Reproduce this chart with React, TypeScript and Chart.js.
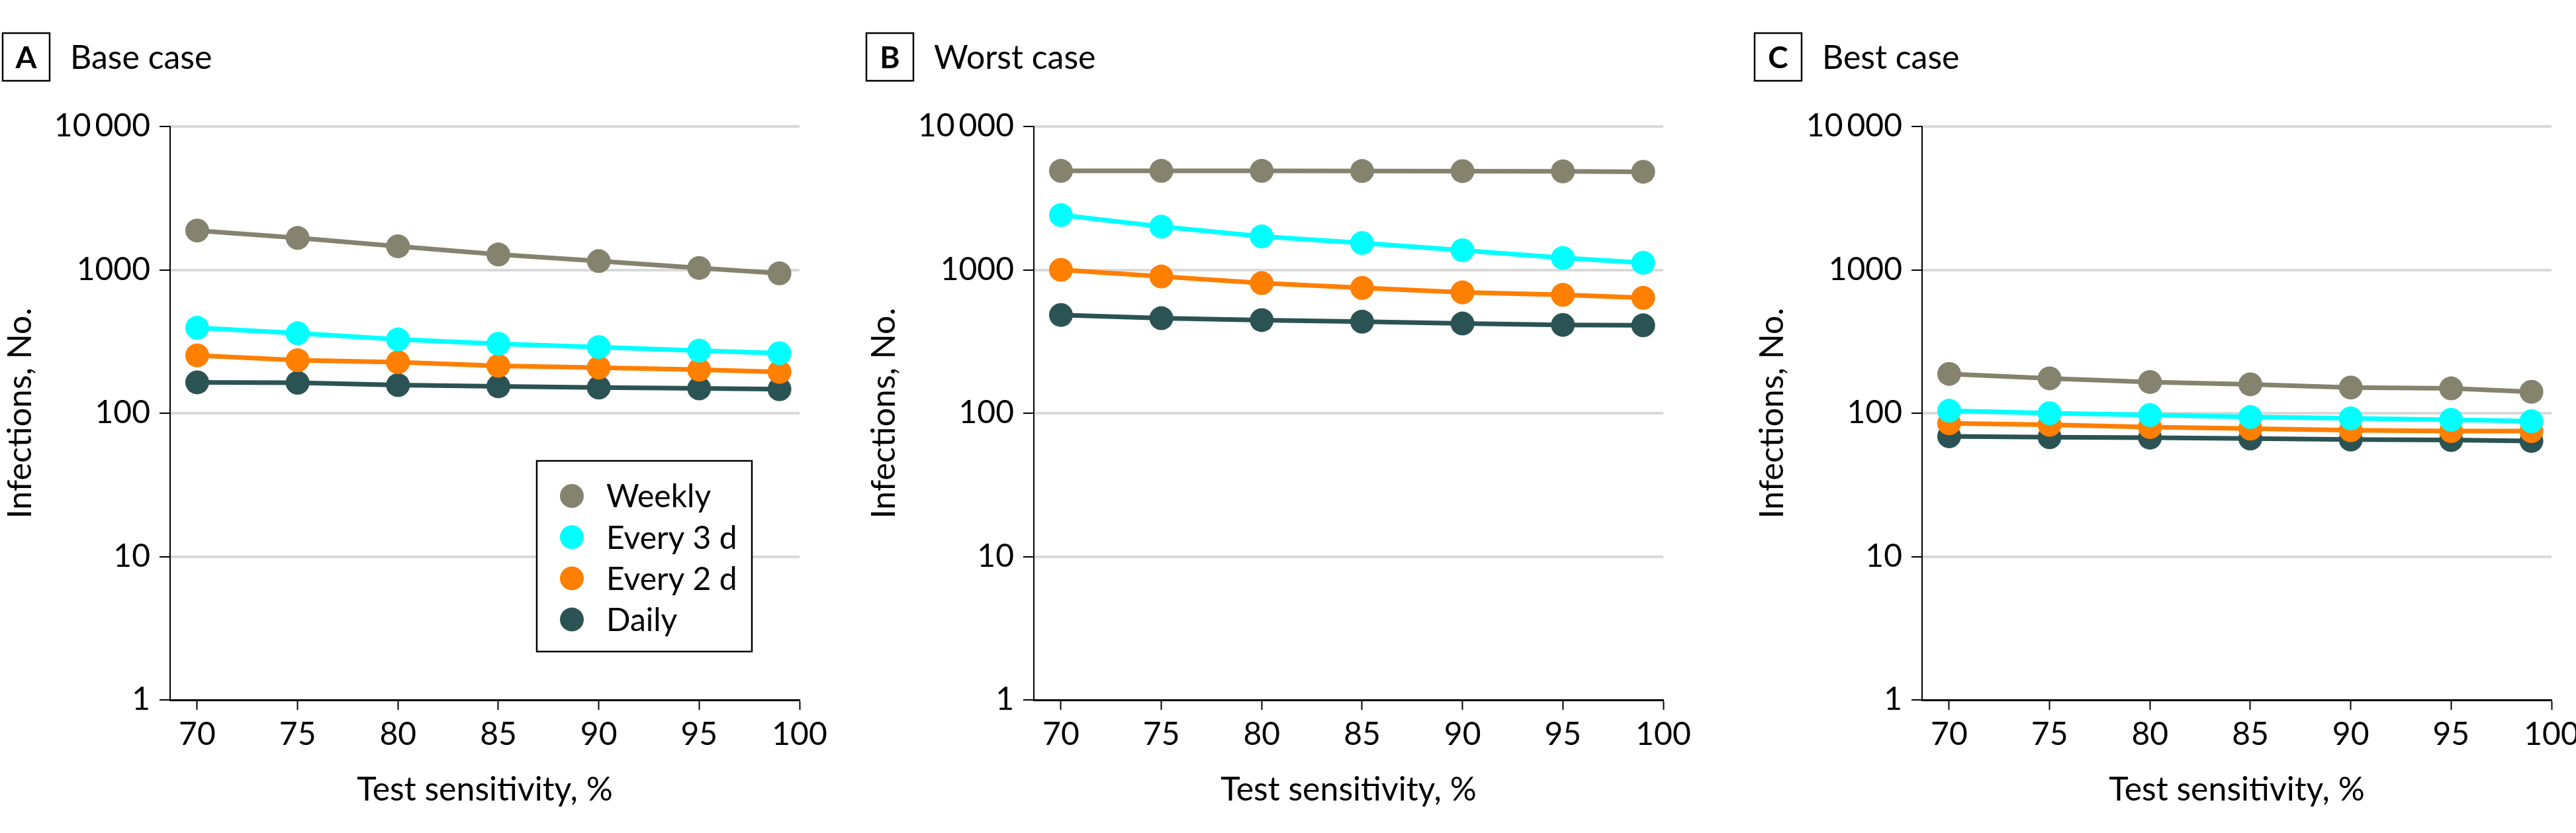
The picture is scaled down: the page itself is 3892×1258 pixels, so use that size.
import React, { useEffect, useRef } from "react";
import { Chart, registerables } from "chart.js";

Chart.register(...registerables);

// ---------- data ----------
const sensitivity = [70, 75, 80, 85, 90, 95, 99];
const xTickValues = [70, 75, 80, 85, 90, 95, 100];
const yTickValues = [1, 10, 100, 1000, 10000];
const seriesNames = ["Weekly", "Every 3 d", "Every 2 d", "Daily"];
const seriesColors = ["#85836e", "#00ffff", "#ff7f00", "#2b5353"];

const baseWeekly = [1880, 1670, 1460, 1280, 1150, 1030, 945];
const baseEvery3 = [394, 361, 327, 305, 289, 273, 262];
const baseEvery2 = [253, 234, 227, 214, 208, 201, 194];
const baseDaily = [164, 163, 157, 154, 151, 149, 147];

const worstWeekly = [4900, 4900, 4900, 4890, 4880, 4860, 4830];
const worstEvery3 = [2410, 2000, 1710, 1540, 1370, 1210, 1120];
const worstEvery2 = [1000, 899, 808, 748, 696, 669, 638];
const worstDaily = [484, 460, 446, 435, 422, 413, 410];

const bestWeekly = [188, 175, 165, 159, 151, 149, 141];
const bestEvery3 = [104, 100, 97, 94, 92, 90, 88];
const bestEvery2 = [85, 83, 80, 78, 76, 75, 75];
const bestDaily = [69, 68, 67.5, 66.5, 65.5, 65, 64];

const panelLetters = ["A", "B", "C"];
const panelTitles = ["Base case", "Worst case", "Best case"];
const xTitle = "Test sensitivity, %";
const yTitle = "Infections, No.";

const panelSeries = [
  [baseWeekly, baseEvery3, baseEvery2, baseDaily],
  [worstWeekly, worstEvery3, worstEvery2, worstDaily],
  [bestWeekly, bestEvery3, bestEvery2, bestDaily],
];

// ---------- layout ----------
const FONT = "Lato, 'Open Sans', 'DejaVu Sans', sans-serif";
const CANVAS_W = 1300;
const CANVAS_H = 1258;
const canvasLefts = [0, 1305, 2647];
const Y_AXIS_W = 257;
const PLOT_W = 951;
const PLOT_TOP = 191;
const X_AXIS_H = 201;

function formatY(v: number): string {
  if (v === 10000) return "10\u2009000";
  return String(v);
}

const panelTitlePlugin = {
  id: "panelTitle",
  afterDraw(chart: any, _args: any, opts: any) {
    const ctx = chart.ctx;
    ctx.save();
    ctx.strokeStyle = "#000";
    ctx.lineWidth = 2.5;
    ctx.strokeRect(opts.boxX, opts.boxY, opts.boxW, opts.boxH);
    ctx.fillStyle = "#000";
    ctx.font = `bold 46px ${FONT}`;
    ctx.textAlign = "center";
    ctx.textBaseline = "alphabetic";
    ctx.fillText(opts.letter, opts.boxX + opts.boxW / 2, opts.boxY + 53);
    ctx.font = `50px ${FONT}`;
    ctx.textAlign = "left";
    ctx.fillText(opts.text, opts.textX, opts.textBaseline);
    ctx.restore();
  },
};

const panelLegendPlugin = {
  id: "panelLegend",
  afterDraw(chart: any, _args: any, opts: any) {
    if (!opts.display) return;
    const ctx = chart.ctx;
    ctx.save();
    ctx.fillStyle = "#fff";
    ctx.fillRect(opts.x, opts.y, opts.w, opts.h);
    ctx.strokeStyle = "#000";
    ctx.lineWidth = 2.5;
    ctx.strokeRect(opts.x, opts.y, opts.w, opts.h);
    ctx.font = `48px ${FONT}`;
    ctx.textAlign = "left";
    ctx.textBaseline = "middle";
    chart.data.datasets.forEach((ds: any, i: number) => {
      const cy = opts.firstY + i * opts.rowGap;
      ctx.beginPath();
      ctx.fillStyle = ds.backgroundColor;
      ctx.arc(opts.symbolX, cy, opts.radius, 0, Math.PI * 2);
      ctx.fill();
      ctx.fillStyle = "#000";
      ctx.fillText(ds.label, opts.textX, cy + 2);
    });
    ctx.restore();
  },
};

function Panel({ index }: { index: number }) {
  const ref = useRef<HTMLCanvasElement | null>(null);
  useEffect(() => {
    if (!ref.current) return;
    const series = panelSeries[index];
    const chart = new Chart(ref.current, {
      type: "line",
      data: {
        datasets: series.map((vals, i) => ({
          label: seriesNames[i],
          data: sensitivity.map((x, j) => ({ x, y: vals[j] })),
          borderColor: seriesColors[i],
          backgroundColor: seriesColors[i],
          pointBackgroundColor: seriesColors[i],
          pointBorderWidth: 0,
          pointRadius: 18,
          borderWidth: 7,
          tension: 0,
        })),
      },
      options: {
        animation: false,
        responsive: false,
        maintainAspectRatio: false,
        events: [],
        layout: {
          padding: { left: 0, top: PLOT_TOP, right: CANVAS_W - Y_AXIS_W - PLOT_W, bottom: 0 },
        },
        plugins: {
          legend: { display: false },
          tooltip: { enabled: false },
          panelTitle: {
            letter: panelLetters[index],
            text: panelTitles[index],
            boxX: 4,
            boxY: 50,
            boxW: 71,
            boxH: 72,
            textX: 106,
            textBaseline: 104,
          },
          panelLegend: {
            display: index === 0,
            x: 811,
            y: 696,
            w: 325,
            h: 288,
            symbolX: 864,
            textX: 916,
            firstY: 749,
            rowGap: 62.2,
            radius: 18,
          },
        } as any,
        scales: {
          x: {
            type: "linear",
            min: 68.65,
            max: 100,
            afterBuildTicks: (s: any) => {
              s.ticks = xTickValues.map((v) => ({ value: v }));
            },
            afterFit: (s: any) => {
              s.height = X_AXIS_H;
            },
            grid: {
              drawOnChartArea: false,
              drawTicks: true,
              tickLength: 15,
              tickColor: "#000",
              tickWidth: 2,
            },
            border: { display: true, color: "#000", width: 3 },
            ticks: {
              font: { family: FONT, size: 48 },
              color: "#000",
              padding: 9,
              maxRotation: 0,
              autoSkip: false,
            },
            title: {
              display: true,
              text: xTitle,
              font: { family: FONT, size: 50 },
              color: "#000",
              padding: { top: 0, bottom: 35 },
            },
          },
          y: {
            type: "logarithmic",
            min: 1,
            max: 10000,
            afterBuildTicks: (s: any) => {
              s.ticks = yTickValues.map((v) => ({ value: v }));
            },
            afterFit: (s: any) => {
              s.width = Y_AXIS_W;
            },
            grid: {
              color: (c: any) => (c.tick && c.tick.value === 1 ? "rgba(0,0,0,0)" : "#d9d9d9"),
              lineWidth: 4,
              drawTicks: true,
              tickLength: 16,
              tickColor: "#000",
              tickWidth: 2,
            },
            border: { display: true, color: "#000", width: 2 },
            ticks: {
              callback: (v: any) => formatY(Number(v)),
              font: { family: FONT, size: 48 },
              color: "#000",
              padding: 14,
              autoSkip: false,
            },
            title: {
              display: true,
              text: yTitle,
              font: { family: FONT, size: 50 },
              color: "#000",
              padding: { top: 1, bottom: 0 },
            },
          },
        },
      },
      plugins: [panelTitlePlugin, panelLegendPlugin],
    } as any);
    return () => chart.destroy();
  }, [index]);
  return (
    <canvas
      ref={ref}
      width={CANVAS_W}
      height={CANVAS_H}
      style={{
        position: "absolute",
        left: canvasLefts[index],
        top: 0,
        width: CANVAS_W,
        height: CANVAS_H,
      }}
    />
  );
}

export default function App() {
  return (
    <div
      style={{
        position: "absolute",
        left: 0,
        top: 0,
        width: 3892,
        height: 1258,
        overflow: "hidden",
        background: "#fff",
      }}
    >
      {[0, 1, 2].map((i) => (
        <Panel key={i} index={i} />
      ))}
    </div>
  );
}
